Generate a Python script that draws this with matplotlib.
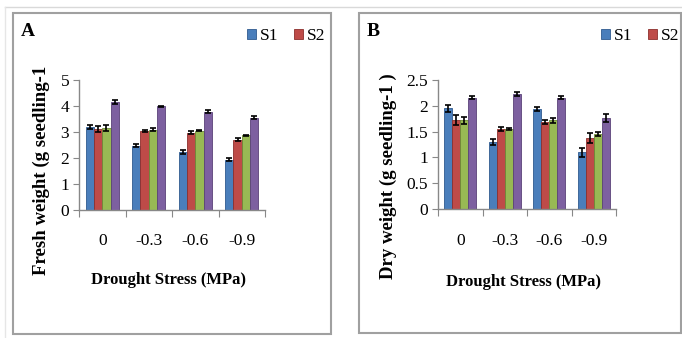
import matplotlib
matplotlib.use('Agg')
import matplotlib.pyplot as plt
from matplotlib.patches import Rectangle
from matplotlib.lines import Line2D
import numpy as np

# data
stress = ['0', '-0.3', '-0.6', '-0.9']
series = ['S1', 'S2', 'S3', 'S4']

fresh_s1 = [3.2, 2.47, 2.22, 1.93]
fresh_s2 = [3.1, 3.03, 2.97, 2.7]
fresh_s3 = [3.15, 3.08, 3.05, 2.87]
fresh_s4 = [4.15, 3.98, 3.78, 3.55]
fresh_err_s1 = [0.08, 0.05, 0.06, 0.07]
fresh_err_s2 = [0.12, 0.05, 0.06, 0.06]
fresh_err_s3 = [0.1, 0.05, 0.02, 0.02]
fresh_err_s4 = [0.08, 0.03, 0.05, 0.05]

dry_s1 = [1.95, 1.3, 1.94, 1.1]
dry_s2 = [1.72, 1.55, 1.69, 1.37]
dry_s3 = [1.72, 1.55, 1.72, 1.45]
dry_s4 = [2.16, 2.23, 2.16, 1.77]
dry_err_s1 = [0.07, 0.05, 0.04, 0.09]
dry_err_s2 = [0.1, 0.03, 0.04, 0.1]
dry_err_s3 = [0.07, 0.02, 0.05, 0.04]
dry_err_s4 = [0.03, 0.04, 0.03, 0.08]

colors = ['#4a7ebb', '#be4b48', '#98b954', '#7d60a0']
edges = ['#2f5a8f', '#8c2f2d', '#6d8a37', '#5a4278']

W, H = 682, 338
plt.rcParams['font.family'] = ['Liberation Serif', 'DejaVu Serif']

fig = plt.figure(figsize=(W / 100, H / 100), dpi=100)


def px(x0, y0, x1, y1):
    # pixel box (from top-left) -> figure fraction rect
    return [x0 / W, 1 - y1 / H, (x1 - x0) / W, (y1 - y0) / H]


def panel(rect, vals, errs, ymax, ystep, ylabel, letter, frame, lab_x, lab_y, leg_x, xl_y):
    ax = fig.add_axes(px(*rect))
    x = np.arange(len(stress))
    w = 0.18
    bars = []
    for i in range(4):
        b = ax.bar(x + (i - 1.5) * w, vals[i], w, color=colors[i], edgecolor=edges[i],
                   linewidth=0.6, yerr=errs[i], capsize=2.2,
                   error_kw=dict(ecolor='black', elinewidth=1.2, capthick=1.2))
        bars.append(b)
    ax.set_xlim(-0.5, 3.5)
    ax.set_ylim(0, ymax)
    ax.set_yticks(np.arange(0, ymax + 0.001, ystep))
    ax.set_yticklabels([('%g' % v) for v in np.arange(0, ymax + 0.001, ystep)])
    ax.set_xticks(np.arange(-0.5, 3.6, 1))
    ax.set_xticklabels([])
    ax.set_xticks(x, minor=True)
    ax.set_xticklabels(stress, minor=True)
    ax.tick_params(axis='x', which='major', length=5, color='#888888', direction='out')
    ax.tick_params(axis='x', which='minor', length=0, pad=17, labelsize=12.5)
    ax.tick_params(axis='y', length=4, color='#888888', labelsize=12.5, pad=3)
    for s in ['top', 'right']:
        ax.spines[s].set_visible(False)
    for s in ['left', 'bottom']:
        ax.spines[s].set_color('#888888')
        ax.spines[s].set_linewidth(1.0)

    fig.text(lab_x / W, 1 - lab_y / H, ylabel, rotation=90, ha='center', va='center',
             fontsize=13.5, fontweight='bold')
    fig.text((rect[0] + rect[2]) / 2 / W - 0.005, 1 - xl_y / H, 'Drought Stress (MPa)',
             ha='center', va='center', fontsize=12, fontweight='bold')
    fig.text((frame[0] + 8) / W, 1 - 31 / H, letter, ha='left', va='center',
             fontsize=14, fontweight='bold')
    fig.legend([bars[0], bars[1]], series[:2], loc='center left',
               bbox_to_anchor=(leg_x / W, 1 - 36 / H), ncol=2, frameon=False,
               handlelength=0.5, handleheight=0.5, handletextpad=0.25,
               columnspacing=0.9, fontsize=12.5, borderpad=0, borderaxespad=0)
    fig.add_artist(Rectangle((frame[0] / W, 1 - frame[3] / H),
                             (frame[2] - frame[0]) / W, (frame[3] - frame[1]) / H,
                             transform=fig.transFigure, fill=False,
                             edgecolor='#a0a0a0', linewidth=1.5))
    return ax


panel((79, 80, 265, 209.5),
      [fresh_s1, fresh_s2, fresh_s3, fresh_s4],
      [fresh_err_s1, fresh_err_s2, fresh_err_s3, fresh_err_s4],
      5, 1, 'Fresh weight (g seedling-1', 'A', (13, 13, 331, 334), 41, 170, 247, 280)

panel((438, 80, 616, 209),
      [dry_s1, dry_s2, dry_s3, dry_s4],
      [dry_err_s1, dry_err_s2, dry_err_s3, dry_err_s4],
      2.5, 0.5, 'Dry weight (g seedling-1 )', 'B', (359, 13, 681, 333), 388, 176, 601, 282)

# faint outer page lines
fig.add_artist(Line2D([5 / W, 1], [1 - 7 / H, 1 - 7 / H], transform=fig.transFigure,
                      color='#d9d9d9', linewidth=1))
fig.add_artist(Line2D([5 / W, 5 / W], [0, 1 - 7 / H], transform=fig.transFigure,
                      color='#e6e6e6', linewidth=1))

fig.savefig('out.png', dpi=100)
